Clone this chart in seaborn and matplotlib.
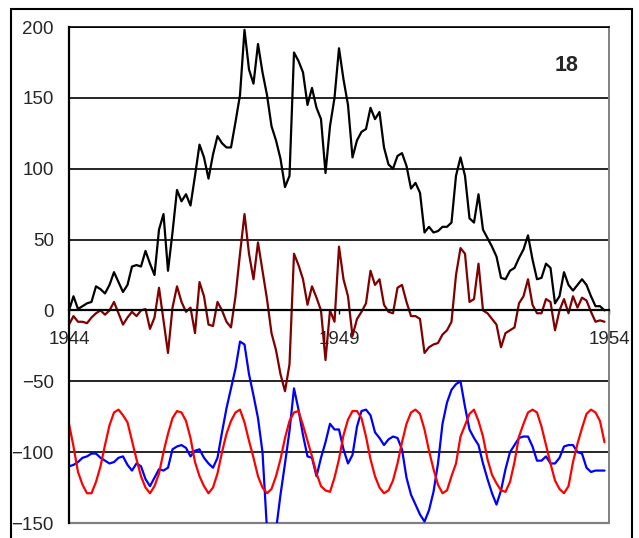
import numpy as np
import pandas as pd
import matplotlib
matplotlib.use("Agg")
import matplotlib.pyplot as plt
import seaborn as sns
from matplotlib.patches import Rectangle

# monthly values, Jan 1944 .. Dec 1953
black = [0, 10, 1, 3, 5, 6, 17, 15, 12, 18,
         27, 20, 13, 18, 31, 32, 31, 42, 33, 25,
         57, 68, 28, 55, 85, 77, 82, 74, 95, 117,
         108, 93, 110, 123, 118, 115, 115, 133, 152, 198,
         170, 160, 188, 168, 152, 130, 120, 107, 87, 95,
         182, 176, 168, 145, 157, 143, 135, 97, 130, 150,
         185, 163, 145, 108, 120, 126, 128, 143, 135, 140,
         115, 103, 100, 109, 111, 102, 86, 90, 83, 55,
         59, 55, 56, 59, 59, 62, 95, 108, 95, 65,
         62, 82, 57, 51, 45, 38, 23, 22, 28, 30,
         37, 43, 53, 36, 22, 23, 33, 30, 5, 10,
         27, 18, 14, 18, 22, 18, 10, 3, 3, 0]

darkred = [-10, -4, -8, -8, -9, -5, -2, 0, -3, 0,
           6, -2, -10, -5, -1, -4, 0, 1, -13, -5,
           16, -7, -30, 2, 17, 6, -1, 2, -16, 20,
           10, -10, -11, 6, 0, -8, -12, 10, 40, 68,
           40, 22, 48, 28, 8, -16, -28, -45, -57, -38,
           40, 32, 22, 4, 17, 9, 0, -35, 0, -8,
           45, 22, 10, -18, -6, -1, 5, 28, 18, 22,
           4, -1, -2, 16, 18, 6, -4, -4, -6, -30,
           -26, -24, -23, -17, -14, -8, 25, 44, 40, 6,
           8, 33, 0, -2, -6, -10, -26, -16, -14, -12,
           5, 10, 22, 4, -2, -2, 8, 6, -14, 0,
           8, -2, 10, 2, 9, 7, -1, -8, -7, -8]

blue = [-110, -109, -107, -104, -103, -101, -101, -104, -106, -108,
        -107, -104, -103, -109, -113, -108, -110, -119, -124, -118,
        -112, -113, -111, -98, -96, -95, -97, -103, -99, -98,
        -104, -108, -111, -104, -86, -69, -55, -41, -22, -24,
        -45, -60, -76, -100, -155, -175, -155, -130, -108, -85,
        -55, -70, -88, -103, -104, -117, -104, -93, -80, -84,
        -84, -98, -108, -102, -82, -71, -70, -74, -86, -90,
        -95, -91, -89, -90, -98, -118, -130, -137, -144, -149,
        -141, -128, -108, -80, -65, -56, -52, -50, -68, -84,
        -90, -95, -108, -119, -129, -137, -127, -112, -100, -95,
        -90, -89, -89, -96, -106, -106, -103, -108, -108, -104,
        -96, -95, -95, -100, -101, -111, -114, -113, -113, -113]

red = [-80, -96, -114, -123, -129, -129, -121, -110, -95, -81,
       -72, -70, -74, -79, -92, -105, -117, -125, -129, -124,
       -115, -100, -87, -76, -71, -72, -78, -90, -107, -117,
       -124, -129, -125, -115, -100, -87, -78, -72, -70, -79,
       -92, -104, -117, -125, -129, -126, -117, -105, -90, -78,
       -72, -71, -81, -92, -103, -115, -124, -127, -128, -118,
       -105, -88, -77, -71, -71, -76, -89, -105, -117, -125,
       -129, -127, -120, -108, -93, -80, -72, -70, -73, -84,
       -99, -112, -123, -129, -127, -117, -108, -89, -81, -73,
       -70, -78, -89, -105, -116, -122, -127, -128, -121, -107,
       -89, -80, -72, -70, -72, -82, -95, -108, -120, -126,
       -129, -124, -107, -94, -83, -73, -70, -72, -78, -93]

years = 1944 + np.arange(len(black)) / 12
year_ticks = [1944, 1949, 1954]

df = pd.DataFrame({"year": years, "black": black, "darkred": darkred,
                   "blue": blue, "red": red})
long = df.melt(id_vars="year", var_name="series", value_name="value")

sns.set_style("white")
plt.rcParams["font.family"] = ["Liberation Sans", "DejaVu Sans"]

fig = plt.figure(figsize=(6.39, 5.38), dpi=100)
ax = fig.add_axes([69 / 639, 1 - 523 / 538, 540 / 639, 496 / 538])

colors = {"black": "black", "darkred": "#800000", "blue": "#0000ff", "red": "#ff0000"}
sns.lineplot(data=long, x="year", y="value", hue="series",
             hue_order=["black", "darkred", "blue", "red"], palette=colors,
             linewidth=1.6, estimator=None, sort=False, legend=False, ax=ax)

ax.set_xlim(1944, 1954)
ax.set_ylim(-150, 200)
ax.set_yticks(range(-150, 201, 50))
ax.set_xticks(year_ticks)
ax.set_xlabel("")
ax.set_ylabel("")

ax.yaxis.grid(True, color="black", linewidth=1.2)
ax.xaxis.grid(False)
ax.set_axisbelow(True)

ax.spines["left"].set_color("black")
ax.spines["left"].set_linewidth(1.6)
ax.spines["top"].set_color("black")
ax.spines["top"].set_linewidth(1.2)
ax.spines["right"].set_color("#808080")
ax.spines["right"].set_linewidth(1.4)
ax.spines["bottom"].set_position(("data", 0))
ax.spines["bottom"].set_color("black")
ax.spines["bottom"].set_linewidth(1.6)
ax.axhline(-150, color="#808080", linewidth=1.6, clip_on=False, zorder=1.5)

ax.tick_params(axis="y", left=False, length=0, pad=11, labelsize=13.5)
ax.tick_params(axis="x", bottom=True, length=3, width=1, direction="out",
               color="black", pad=12, labelsize=13.5)

ax.text(1953.22, 173, "18", fontsize=15.5, fontweight="bold",
        ha="center", va="center")

# outer chart border
fig.patches.append(Rectangle((11 / 639, -0.02), 621 / 639, 1 - 9 / 538 + 0.02,
                             transform=fig.transFigure, fill=False,
                             edgecolor="black", linewidth=1.5))

fig.savefig("out.png", dpi=100)
